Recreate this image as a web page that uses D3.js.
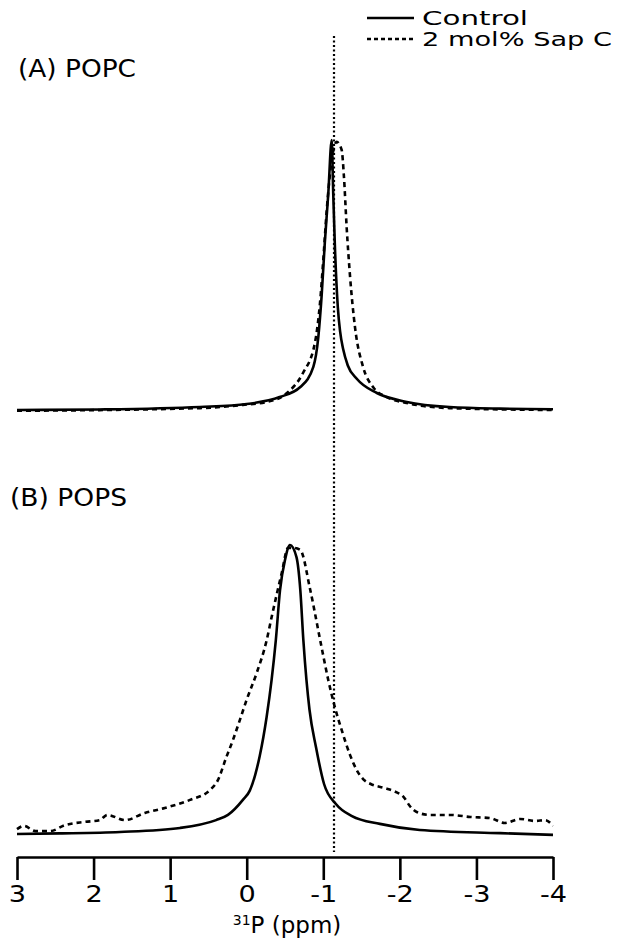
<!DOCTYPE html>
<html>
<head>
<meta charset="utf-8">
<script src="https://cdn.jsdelivr.net/npm/d3@7"></script>
<style>
  body { margin: 0; background: #fff; }
  svg text { font-family: "DejaVu Sans", sans-serif; fill: #000; }
</style>
</head>
<body>
<div id="chartMain"></div>
<script>
// chemical shift (ppm) and normalised intensity
const popcControlPpm = [3.0, 1.92, 0.61, 0.0, -0.43, -0.70, -0.87, -0.935, -0.98, -1.02, -1.065, -1.11, -1.13, -1.15, -1.19, -1.22, -1.26, -1.32, -1.44, -1.70, -2.09, -2.65, -3.31, -4.0];
const popcControlInt = [0.0, 0.002, 0.011, 0.022, 0.048, 0.085, 0.16, 0.27, 0.43, 0.62, 0.80, 1.0, 0.80, 0.62, 0.38, 0.29, 0.225, 0.165, 0.115, 0.063, 0.03, 0.011, 0.005, 0.003];

const popcSapPpm = [3.0, 0.61, 0.05, -0.265, -0.526, -0.735, -0.89, -0.957, -1.0, -1.045, -1.11, -1.175, -1.24, -1.27, -1.305, -1.35, -1.414, -1.52, -1.65, -1.83, -2.09, -2.65, -4.0];
const popcSapInt = [-0.003, 0.007, 0.019, 0.03, 0.063, 0.137, 0.248, 0.396, 0.556, 0.74, 0.926, 0.993, 0.963, 0.863, 0.678, 0.493, 0.307, 0.159, 0.085, 0.048, 0.026, 0.007, 0.0];

const popsControlPpm = [3.0, 2.44, 1.655, 0.87, 0.40, 0.245, 0.05, -0.04, -0.11, -0.17, -0.26, -0.325, -0.38, -0.435, -0.50, -0.565, -0.65, -0.70, -0.74, -0.78, -0.82, -0.905, -1.01, -1.165, -1.375, -1.74, -2.26, -3.31, -4.0];
const popsControlInt = [0.0, 0.002, 0.007, 0.021, 0.048, 0.066, 0.118, 0.15, 0.204, 0.27, 0.405, 0.533, 0.67, 0.844, 0.948, 1.0, 0.958, 0.844, 0.67, 0.533, 0.43, 0.30, 0.173, 0.104, 0.062, 0.035, 0.014, 0.003, -0.003];

const popsSapPpm = [3.0, 2.91, 2.76, 2.57, 2.37, 2.11, 1.92, 1.82, 1.59, 1.33, 1.07, 0.74, 0.48, 0.375, 0.27, 0.18, 0.09, 0.0, -0.13, -0.26, -0.325, -0.455, -0.54, -0.62, -0.70, -0.83, -0.96, -1.065, -1.15, -1.24, -1.35, -1.45, -1.52, -1.62, -1.80, -1.95, -2.05, -2.13, -2.22, -2.39, -2.655, -2.92, -3.18, -3.37, -3.57, -3.765, -3.90, -4.0];
const popsSapInt = [0.017, 0.028, 0.010, 0.010, 0.031, 0.042, 0.048, 0.066, 0.048, 0.073, 0.09, 0.118, 0.152, 0.187, 0.263, 0.325, 0.394, 0.465, 0.557, 0.67, 0.75, 0.90, 0.99, 0.99, 0.983, 0.844, 0.67, 0.533, 0.44, 0.36, 0.273, 0.215, 0.19, 0.173, 0.159, 0.145, 0.128, 0.097, 0.076, 0.066, 0.066, 0.059, 0.055, 0.038, 0.052, 0.045, 0.048, 0.028];

const xTicks = [3, 2, 1, 0, -1, -2, -3, -4];
const refShift = -1.14;
const seriesNames = ["Control", "2 mol% Sap C"];
const panelNames = ["(A) POPC", "(B) POPS"];

const width = 621, height = 939;

const svg = d3.select('#chartMain')
    .append('svg')
    .attr('width', width)
    .attr('height', height);

const x = d3.scaleLinear().domain([3, -4]).range([17, 553]);
const yA = d3.scaleLinear().domain([0, 1]).range([410, 140]);
const yB = d3.scaleLinear().domain([0, 1]).range([834, 545]);

const dashes = [null, '5,4'];

function drawSpectrum(ppm, inten, yScale, dash) {
    const pts = ppm.map((p, i) => [p, inten[i]]);
    const line = d3.line()
        .x(d => x(d[0]))
        .y(d => yScale(d[1]))
        .curve(d3.curveMonotoneX);
    svg.append('path')
        .datum(pts)
        .attr('fill', 'none')
        .attr('stroke', '#000')
        .attr('stroke-width', 2.6)
        .attr('stroke-linejoin', 'round')
        .attr('stroke-dasharray', dash)
        .attr('d', line);
}

drawSpectrum(popcSapPpm, popcSapInt, yA, dashes[1]);
drawSpectrum(popcControlPpm, popcControlInt, yA, dashes[0]);
drawSpectrum(popsSapPpm, popsSapInt, yB, dashes[1]);
drawSpectrum(popsControlPpm, popsControlInt, yB, dashes[0]);

// reference line
svg.append('line')
    .attr('x1', x(refShift)).attr('x2', x(refShift))
    .attr('y1', 36).attr('y2', 852)
    .attr('stroke', '#000')
    .attr('stroke-width', 2.2)
    .attr('stroke-dasharray', '2,2.5');

// axis
const axis = svg.append('g')
    .attr('transform', 'translate(0,857)')
    .call(d3.axisBottom(x).tickValues(xTicks).tickSize(23).tickSizeOuter(0).tickPadding(6)
        .tickFormat(d => d));
axis.select('.domain').attr('stroke-width', 2.6);
axis.selectAll('.tick line').attr('stroke-width', 2.6);
axis.selectAll('.tick text')
    .style('font-family', '"DejaVu Sans", sans-serif')
    .style('font-size', '23px')
    .attr('fill', '#000')
    .attr('transform', 'scale(1.18,1)');

const xLabel = svg.append('text')
    .attr('x', 287)
    .attr('y', 933)
    .attr('text-anchor', 'middle')
    .style('font-size', '23px');
xLabel.append('tspan').text('31').style('font-size', '14px').attr('dy', '-8');
xLabel.append('tspan').text('P (ppm)').attr('dy', '8');

// panel labels
svg.append('text').attr('x', 18).attr('y', 77).style('font-size', '24px')
    .attr('textLength', 118).attr('lengthAdjust', 'spacingAndGlyphs').text(panelNames[0]);
svg.append('text').attr('x', 10).attr('y', 506).style('font-size', '24px')
    .attr('textLength', 117).attr('lengthAdjust', 'spacingAndGlyphs').text(panelNames[1]);

// legend
const legendLen = [106, 190];
seriesNames.forEach((name, i) => {
    const ly = 18 + i * 21;
    svg.append('line')
        .attr('x1', 367).attr('x2', 414)
        .attr('y1', ly).attr('y2', ly)
        .attr('stroke', '#000')
        .attr('stroke-width', 2.4)
        .attr('stroke-dasharray', dashes[i] ? '4,3' : null);
    svg.append('text')
        .attr('x', 422).attr('y', ly + 7)
        .style('font-size', '19px')
        .attr('textLength', legendLen[i]).attr('lengthAdjust', 'spacingAndGlyphs')
        .text(name);
});
</script>
</body>
</html>
